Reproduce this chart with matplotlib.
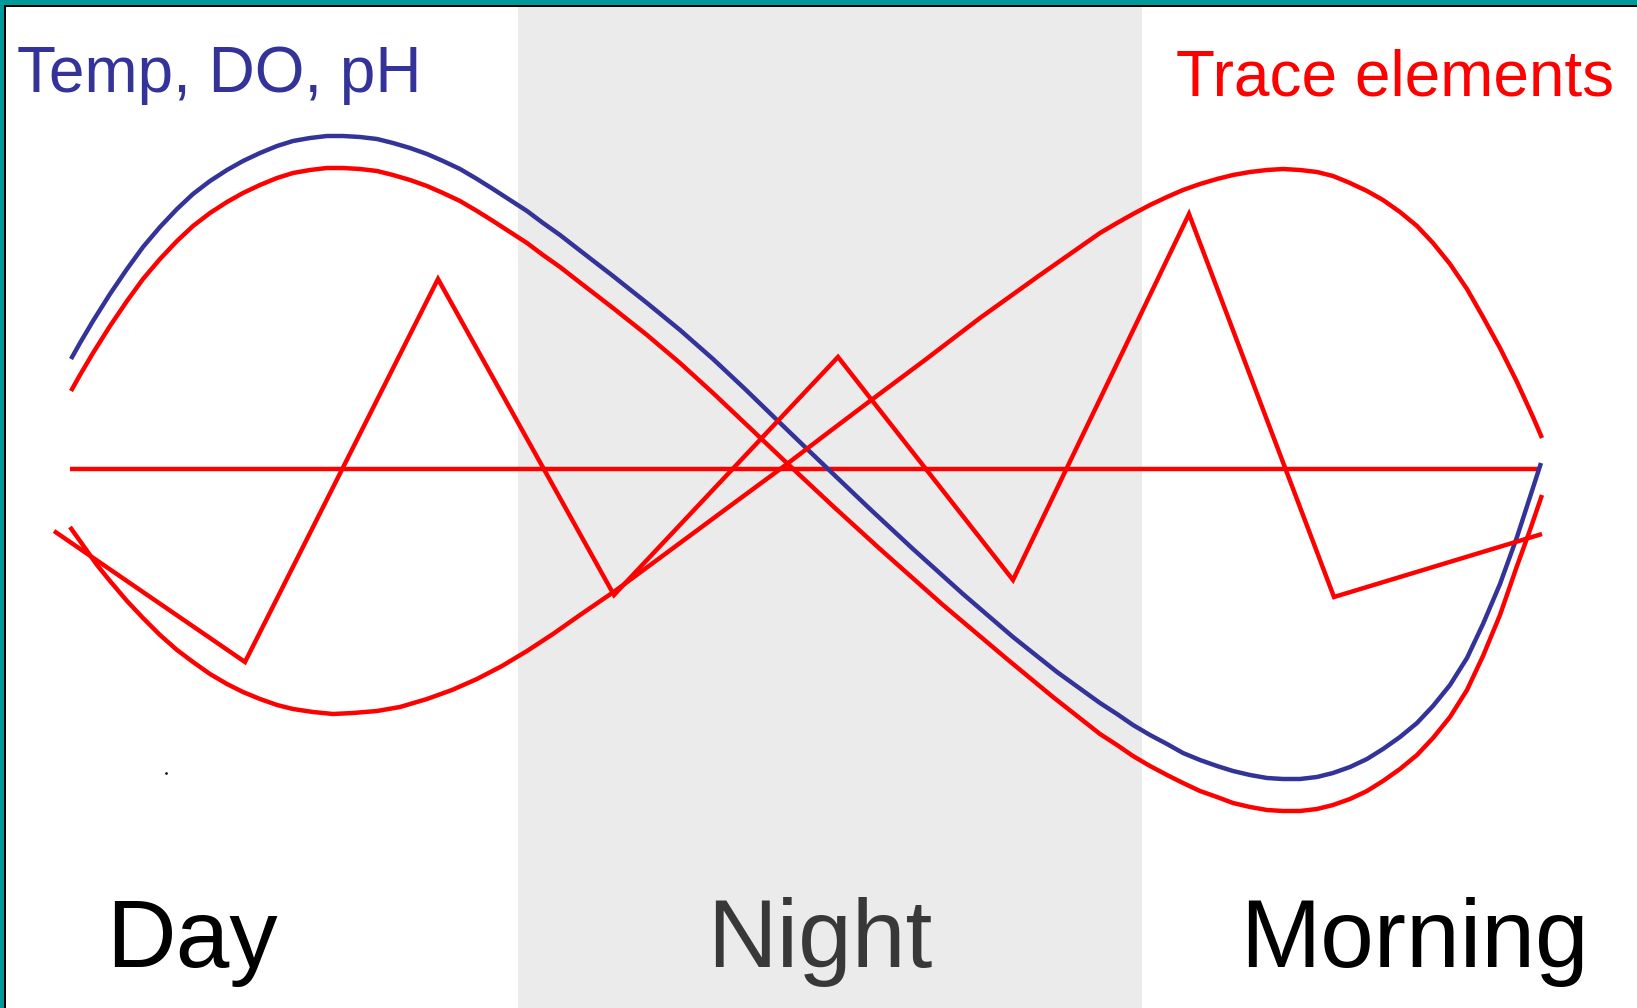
import matplotlib
matplotlib.use("Agg")
import matplotlib.pyplot as plt
from matplotlib.patches import Rectangle

W, H = 1637, 1008

# ---- data (in picture pixel units) ----
blue_x = [71, 80, 93, 110, 127, 143, 160, 177, 193, 210, 227, 243, 260, 277,
          293, 310, 327, 343, 360, 377, 393, 410, 427, 443, 460, 477, 493, 510,
          527, 543, 560, 578, 613, 647, 680, 713, 745, 777, 805, 827, 870, 913,
          963, 1013, 1057, 1100, 1117, 1133, 1150, 1167, 1183, 1200, 1217, 1233,
          1250, 1267, 1283, 1300, 1317, 1333, 1350, 1367, 1383, 1400, 1417, 1433,
          1450, 1467, 1483, 1500, 1517, 1530, 1541]
blue_y = [359, 343, 321, 294, 269, 247, 227, 209, 194, 181, 170, 161, 153, 146,
          141, 138, 136, 136, 137, 139, 143, 148, 154, 161, 169, 179, 189, 200,
          211, 223, 235, 249, 276, 303, 330, 359, 389, 420, 447, 468, 509, 549,
          594, 637, 672, 703, 714, 725, 735, 744, 753, 760, 766, 771,
          775, 778, 779, 779, 777, 773, 767, 759, 749, 737, 723, 706,
          685, 658, 624, 584, 537, 497, 463]

redA_x = [71, 80, 93, 110, 127, 143, 160, 177, 193, 210, 227, 243, 260, 277,
          293, 310, 327, 343, 360, 377, 393, 410, 427, 443, 460, 477, 493, 510,
          527, 543, 560, 578, 613, 647, 680, 713, 750, 790, 835, 880, 943,
          1007, 1053, 1100, 1117, 1133, 1150, 1167, 1183, 1200, 1217, 1233,
          1250, 1267, 1283, 1300, 1317, 1333, 1350, 1367, 1383, 1400, 1417, 1433,
          1450, 1467, 1483, 1500, 1517, 1530, 1542]
redA_y = [391, 375, 353, 326, 301, 279, 259, 241, 226, 213, 202, 193, 185, 178,
          173, 170, 168, 168, 169, 171, 175, 180, 186, 193, 201, 211, 221, 232,
          243, 255, 267, 281, 308, 335, 363, 393, 428, 466, 508, 549, 605,
          659, 697, 734, 745, 756, 766, 775, 783, 791, 797, 803,
          807, 810, 811, 811, 809, 805, 799, 791, 781, 769, 755, 738,
          717, 690, 656, 615, 566, 530, 495]

redB_x = [70, 80, 97, 110, 127, 143, 160, 177, 193, 210, 227, 243, 260, 277,
          293, 313, 333, 353, 377, 400, 427, 452, 477, 502, 527, 553, 580,
          615, 680, 730, 783, 825, 870, 925, 980, 1040, 1100, 1117, 1133, 1150,
          1167, 1183, 1200, 1217, 1233, 1250, 1267, 1283, 1300, 1317, 1333,
          1350, 1367, 1383, 1400, 1417, 1433, 1450, 1467, 1483, 1500, 1517,
          1533, 1542]
redB_y = [527, 541, 565, 581, 601, 618, 635, 650, 662, 674, 684, 692, 699, 705,
          709, 712, 714, 713, 711, 707, 699, 690, 679, 666, 651, 634, 615,
          591, 543, 506, 467, 435, 401, 360, 318, 275, 233, 223, 214, 205,
          197, 190, 184, 179, 175, 172, 170, 169, 170, 172, 176,
          183, 191, 200, 212, 226, 243, 264, 289, 317, 348, 382,
          417, 438]

flat_x = [70, 1540]
flat_y = [469, 469]

zig_x = [54, 245, 438, 614, 838, 1013, 1189, 1334, 1542]
zig_y = [531, 662, 279, 595, 357, 580, 214, 597, 534]

night_span = [518, 1142]

stray_x = [166]
stray_y = [773]

period_labels = ["Day", "Night", "Morning"]
period_x = [106, 707, 1240]
period_colors = ["#000000", "#383838", "#000000"]

# ---- figure ----
fig = plt.figure(figsize=(W / 100, H / 100), dpi=100)
ax = fig.add_axes([0, 0, 1, 1])
ax.set_xlim(0, W)
ax.set_ylim(H, 0)
ax.axis("off")

ax.axvspan(night_span[0], night_span[1], color="#ebebeb", zorder=0, lw=0)

RED = "#ff0000"
BLUE = "#333399"
lw = 3.2
kw = dict(lw=lw, solid_capstyle="butt", solid_joinstyle="round")
ax.plot(blue_x, blue_y, color=BLUE, zorder=3, **kw)
ax.plot(redA_x, redA_y, color=RED, zorder=3, **kw)
ax.plot(redB_x, redB_y, color=RED, zorder=3, **kw)
ax.plot(flat_x, flat_y, color=RED, lw=lw, solid_capstyle="butt", zorder=2)
ax.plot(zig_x, zig_y, color=RED, lw=lw, solid_capstyle="butt",
        solid_joinstyle="miter", zorder=3)
ax.plot(stray_x, stray_y, ls="none", marker="s", ms=0.8, color="black")

font = "Liberation Sans"
ax.text(17, 92, "Temp, DO, pH", color=BLUE, fontsize=46, family=font,
        ha="left", va="baseline")
ax.text(1614, 95, "Trace elements", color=RED, fontsize=46, family=font,
        ha="right", va="baseline")
for lab, x, c in zip(period_labels, period_x, period_colors):
    ax.text(x, 967, lab, color=c, fontsize=69.5, family=font,
            ha="left", va="baseline")

# frame: teal top/left strips with thin black inner line
teal = "#009999"
fig.add_artist(Rectangle((0, 1 - 5 / H), 1, 5 / H, transform=fig.transFigure,
                         color=teal, lw=0, zorder=10))
fig.add_artist(Rectangle((0, 1 - 6.5 / H), 1, 1.5 / H, transform=fig.transFigure,
                         color="black", lw=0, zorder=10))
fig.add_artist(Rectangle((0, 0), 4 / W, 1, transform=fig.transFigure,
                         color=teal, lw=0, zorder=10))
fig.add_artist(Rectangle((4 / W, 0), 1.8 / W, 1 - 5 / H, transform=fig.transFigure,
                         color="black", lw=0, zorder=10))

fig.savefig("out.png", dpi=100)
